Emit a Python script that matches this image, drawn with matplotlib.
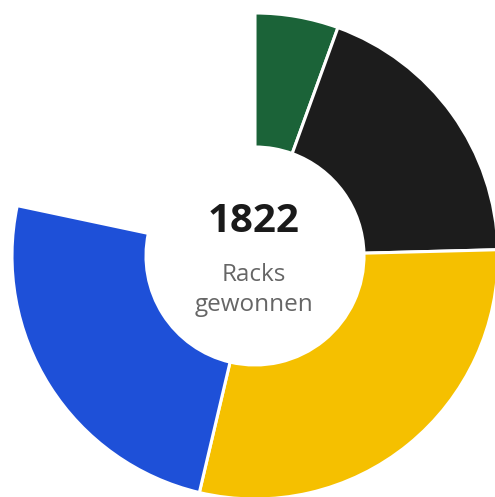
import matplotlib.pyplot as plt

# racks per player, the last share stays blank
players = ["Grün", "Schwarz", "Gelb", "Blau", "Rest"]
racks = [101, 347, 530, 449, 395]
colors = ["#1b6338", "#1c1c1c", "#f5c000", "#1e50d8", "white"]
total_label = "1822"
sub_label = "Racks\ngewonnen"

fig = plt.figure(figsize=(4.95, 4.97), dpi=100)
ax = fig.add_axes([0, 0, 1, 1])

wedges, _ = ax.pie(racks, colors=colors, startangle=90, counterclock=False,
                   center=(255, 241), radius=243,
                   wedgeprops=dict(width=134, edgecolor="white", linewidth=2.2))
wedges[-1].set_visible(False)

ax.set_xlim(0, 495)
ax.set_ylim(0, 497)
ax.set_aspect("equal")
ax.axis("off")

ax.text(254, 276, total_label, ha="center", va="center", fontsize=29,
        fontweight="bold", family="Open Sans", color="#1a1a1a")
ax.text(254, 207, sub_label, ha="center", va="center", fontsize=17.5,
        family="Open Sans", color="#666666", linespacing=1.38)

fig.savefig("out.png", dpi=100)
